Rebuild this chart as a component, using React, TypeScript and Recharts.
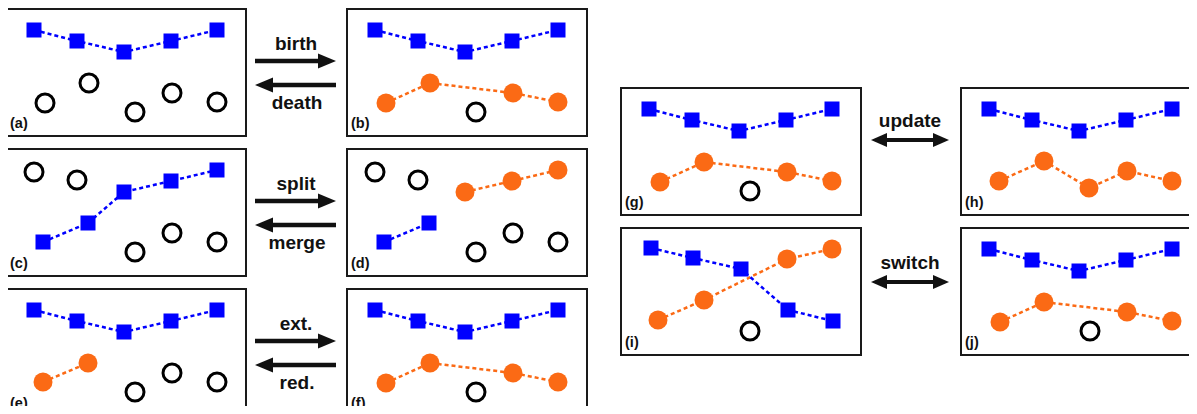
import React from "react";
import { ScatterChart, Scatter, XAxis, YAxis } from "recharts";

type Pt = { x: number; y: number };

// point positions in panel units (px from the panel's top-left, y grows downward)
const blueTrack: Pt[] = [
  { x: 29, y: 22 },
  { x: 72, y: 33 },
  { x: 119, y: 44 },
  { x: 166, y: 33 },
  { x: 212, y: 22 },
];
const detections: Pt[] = [
  { x: 40, y: 95 },
  { x: 84, y: 75 },
  { x: 130, y: 104 },
  { x: 167, y: 85 },
  { x: 212, y: 94 },
];
const splitSquares: Pt[] = [
  { x: 38, y: 94 },
  { x: 83, y: 75 },
  { x: 119, y: 44 },
  { x: 166, y: 33 },
  { x: 212, y: 22 },
];
const splitCircles: Pt[] = [
  { x: 29, y: 24 },
  { x: 72, y: 32 },
  { x: 130, y: 104 },
  { x: 167, y: 85 },
  { x: 212, y: 94 },
];
const extOrange: Pt[] = [
  { x: 38, y: 94 },
  { x: 83, y: 75 },
];
const updateOrange: Pt[] = [
  { x: 39, y: 94 },
  { x: 84, y: 74 },
  { x: 129, y: 101 },
  { x: 167, y: 84 },
  { x: 212, y: 94 },
];
const switchSquares: Pt[] = [
  { x: 31, y: 21 },
  { x: 73, y: 31 },
  { x: 121, y: 42 },
  { x: 168, y: 83 },
  { x: 213, y: 94 },
];
const switchOrange: Pt[] = [
  { x: 38, y: 93 },
  { x: 84, y: 73 },
  { x: 167, y: 32 },
  { x: 212, y: 22 },
];

const bornTrack = [detections[0], detections[1], detections[3], detections[4]];
const leftOver = [detections[2]];

const W = 242;
const H = 129;
const BLUE = "#0000ff";
const ORANGE = "#fb6a15";
const FONT = '"Liberation Sans", Arial, sans-serif';

interface PanelDef {
  id: string;
  left: number;
  top: number;
  squares: Pt[];
  orange: Pt[];
  circles: Pt[];
}

const panels: PanelDef[] = [
  { id: "a", left: 5, top: 8, squares: blueTrack, orange: [], circles: detections },
  { id: "b", left: 346, top: 8, squares: blueTrack, orange: bornTrack, circles: leftOver },
  { id: "c", left: 5, top: 148, squares: splitSquares, orange: [], circles: splitCircles },
  { id: "d", left: 346, top: 148, squares: splitSquares.slice(0, 2), orange: splitSquares.slice(2), circles: splitCircles },
  { id: "e", left: 5, top: 288, squares: blueTrack, orange: extOrange, circles: detections.slice(2) },
  { id: "f", left: 346, top: 288, squares: blueTrack, orange: bornTrack, circles: leftOver },
  { id: "g", left: 620, top: 87, squares: blueTrack, orange: bornTrack, circles: leftOver },
  { id: "h", left: 960, top: 87, squares: blueTrack, orange: updateOrange, circles: [] },
  { id: "i", left: 620, top: 227, squares: switchSquares, orange: switchOrange, circles: leftOver },
  { id: "j", left: 960, top: 227, squares: blueTrack, orange: bornTrack, circles: leftOver },
];

// pairs of one-way arrows between the left columns
const pairArrows = [
  { top: "birth", bottom: "death", dy: 0 },
  { top: "split", bottom: "merge", dy: 140 },
  { top: "ext.", bottom: "red.", dy: 280 },
];
const doubleArrows = [
  { label: "update", y: 140 },
  { label: "switch", y: 282 },
];

const squareShape = (p: any) => (
  <rect x={p.cx - 7.5} y={p.cy - 7.5} width={15} height={15} fill={BLUE} />
);
const dotShape = (p: any) => <circle cx={p.cx} cy={p.cy} r={9.5} fill={ORANGE} />;
const ringShape = (p: any) => (
  <circle cx={p.cx} cy={p.cy} r={9} fill="#fff" stroke="#000" strokeWidth={3} />
);

function Panel({ p }: { p: PanelDef }) {
  return (
    <div style={{ position: "absolute", left: p.left, top: p.top, width: W, height: H }}>
      <ScatterChart width={W} height={H} margin={{ top: 0, right: 0, bottom: 0, left: 0 }}>
        <XAxis type="number" dataKey="x" domain={[0, W]} hide />
        <YAxis type="number" dataKey="y" domain={[0, H]} reversed hide />
        {p.orange.length > 0 && (
          <Scatter
            data={p.orange}
            shape={dotShape}
            line={{ stroke: ORANGE, strokeWidth: 2.5, strokeDasharray: "4 3" }}
            lineType="joint"
            isAnimationActive={false}
          />
        )}
        <Scatter
          data={p.squares}
          shape={squareShape}
          line={{ stroke: BLUE, strokeWidth: 2.5, strokeDasharray: "4 3" }}
          lineType="joint"
          isAnimationActive={false}
        />
        {p.circles.length > 0 && (
          <Scatter data={p.circles} shape={ringShape} isAnimationActive={false} />
        )}
      </ScatterChart>
      <div
        style={{
          position: "absolute",
          inset: 0,
          border: "2.5px solid #1a1a1a",
          boxSizing: "border-box",
          pointerEvents: "none",
        }}
      />
    </div>
  );
}

function OneWay({ x0, x1, y, dir }: { x0: number; x1: number; y: number; dir: 1 | -1 }) {
  const head = 18;
  if (dir === 1) {
    return (
      <g>
        <rect x={x0} y={y - 2.25} width={x1 - x0 - head + 2} height={4.5} />
        <polygon points={`${x1 - head},${y - 7.5} ${x1},${y} ${x1 - head},${y + 7.5}`} />
      </g>
    );
  }
  return (
    <g>
      <rect x={x0 + head - 2} y={y - 2.25} width={x1 - x0 - head + 2} height={4.5} />
      <polygon points={`${x0 + head},${y - 7.5} ${x0},${y} ${x0 + head},${y + 7.5}`} />
    </g>
  );
}

function TwoWay({ x0, x1, y }: { x0: number; x1: number; y: number }) {
  const head = 16;
  return (
    <g>
      <rect x={x0 + head - 2} y={y - 2} width={x1 - x0 - 2 * head + 4} height={4} />
      <polygon points={`${x0 + head},${y - 7} ${x0},${y} ${x0 + head},${y + 7}`} />
      <polygon points={`${x1 - head},${y - 7} ${x1},${y} ${x1 - head},${y + 7}`} />
    </g>
  );
}

export default function App() {
  return (
    <div
      style={{
        position: "relative",
        width: 1197,
        height: 414,
        margin: -8,
        overflow: "hidden",
        background: "#fff",
        fontFamily: FONT,
      }}
    >
      {panels.map((p) => (
        <Panel key={p.id} p={p} />
      ))}
      <svg
        width={1197}
        height={414}
        style={{ position: "absolute", left: 0, top: 0, pointerEvents: "none" }}
      >
        <g fill="#111" fontFamily={FONT}>
          {panels.map((p) => (
            <text key={p.id} x={p.left + 5} y={p.top + 120} fontSize={14.5} fontWeight="bold">
              ({p.id})
            </text>
          ))}
          {pairArrows.map((a) => (
            <g key={a.top}>
              <text x={296} y={50 + a.dy} fontSize={19} fontWeight="bold" textAnchor="middle">
                {a.top}
              </text>
              <OneWay x0={255} x1={336} y={61 + a.dy} dir={1} />
              <OneWay x0={255} x1={336} y={85 + a.dy} dir={-1} />
              <text x={297} y={109 + a.dy} fontSize={19} fontWeight="bold" textAnchor="middle">
                {a.bottom}
              </text>
            </g>
          ))}
          {doubleArrows.map((a) => (
            <g key={a.label}>
              <text x={910} y={a.y - 13} fontSize={19} fontWeight="bold" textAnchor="middle">
                {a.label}
              </text>
              <TwoWay x0={871} x1={949} y={a.y} />
            </g>
          ))}
        </g>
      </svg>
    </div>
  );
}
